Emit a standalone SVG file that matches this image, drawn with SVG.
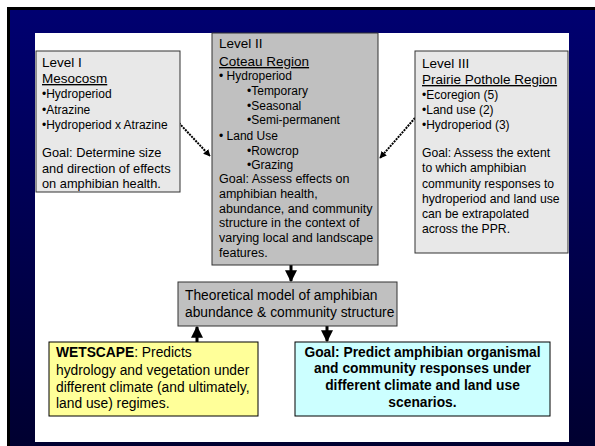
<svg xmlns="http://www.w3.org/2000/svg" width="595" height="446" viewBox="0 0 595 446">
  <defs>
    <linearGradient id="bg" x1="0" y1="0" x2="0" y2="1">
      <stop offset="0" stop-color="#000070"/>
      <stop offset="1" stop-color="#000030"/>
    </linearGradient>
    <marker id="ah" viewBox="0 0 10 10" refX="9" refY="5" markerWidth="4" markerHeight="4" orient="auto" markerUnits="strokeWidth">
      <path d="M0,0 L10,5 L0,10 z" fill="#000"/>
    </marker>
    <marker id="ahd" viewBox="0 0 10 10" refX="9" refY="5" markerWidth="3.5" markerHeight="3.5" orient="auto" markerUnits="strokeWidth">
      <path d="M0,0 L10,5 L0,10 z" fill="#000"/>
    </marker>
  </defs>
  <style>
    text { font-family: "Liberation Sans", Arial, sans-serif; fill: #000; }
    .box { stroke: #333; stroke-width: 1; }
    .lt { fill: #e8e8e8; }
    .gr { fill: #c0c0c0; }
    .title { font-size: 13.5px; }
    .ul { text-decoration: underline; }
    .bul { font-size: 12px; }
    .goal { font-size: 12.8px; }
    .goal2 { font-size: 12.5px; }
    .goal3 { font-size: 12.2px; }
    .big { font-size: 13.8px; }
    .bold { font-weight: bold; }
    .solid { stroke: #000; stroke-width: 3; fill: none; }
    .dash { stroke: #000; stroke-width: 2; stroke-dasharray: 2 1; fill: none; }
  </style>
  <rect x="0" y="0" width="595" height="446" fill="#fff"/>
  <rect x="7" y="7" width="588" height="439" fill="#000"/>
  <rect x="10" y="10" width="585" height="436" fill="url(#bg)"/>
  <rect x="35" y="33" width="534" height="409" fill="#fff"/>

  <g id="connectors">
    <line class="dash" x1="179" y1="123" x2="210" y2="156" marker-end="url(#ahd)"/>
    <line class="dash" x1="415" y1="118" x2="380" y2="158" marker-end="url(#ahd)"/>
    <line class="solid" x1="291" y1="265" x2="291" y2="281" marker-end="url(#ah)"/>
    <line class="solid" x1="197" y1="342" x2="197" y2="327" marker-end="url(#ah)"/>
    <line class="solid" x1="327" y1="326" x2="327" y2="341" marker-end="url(#ah)"/>
  </g>

  <g id="level1">
    <rect class="box lt" x="36" y="51" width="144" height="141"/>
    <text class="title" x="42" y="67">Level I</text>
    <text class="title ul" x="42" y="83">Mesocosm</text>
    <text class="bul" x="42" y="98">•Hydroperiod</text>
    <text class="bul" x="42" y="114">•Atrazine</text>
    <text class="bul" x="42" y="129">•Hydroperiod x Atrazine</text>
    <text class="goal" x="42" y="157">Goal: Determine size</text>
    <text class="goal" x="42" y="173">and direction of effects</text>
    <text class="goal" x="42" y="188">on amphibian health.</text>
  </g>

  <g id="level2">
    <rect class="box gr" x="212" y="33" width="166" height="232"/>
    <text class="title" x="219" y="48">Level II</text>
    <text class="title ul" x="219" y="66">Coteau Region</text>
    <text class="bul" x="219" y="80">• Hydroperiod</text>
    <text class="bul" x="247" y="95">•Temporary</text>
    <text class="bul" x="247" y="110">•Seasonal</text>
    <text class="bul" x="247" y="124">•Semi-permanent</text>
    <text class="bul" x="219" y="140">• Land Use</text>
    <text class="bul" x="247" y="155">•Rowcrop</text>
    <text class="bul" x="247" y="169">•Grazing</text>
    <text class="goal2" x="219" y="183">Goal: Assess effects on</text>
    <text class="goal2" x="219" y="198">amphibian health,</text>
    <text class="goal2" x="219" y="213">abundance, and community</text>
    <text class="goal2" x="219" y="227">structure in the context of</text>
    <text class="goal2" x="219" y="242">varying local and landscape</text>
    <text class="goal2" x="219" y="257">features.</text>
  </g>

  <g id="level3">
    <rect class="box lt" x="415" y="51" width="153" height="202"/>
    <text class="title" x="422" y="68">Level III</text>
    <text class="title ul" x="422" y="84">Prairie Pothole Region</text>
    <text class="bul" x="422" y="99">•Ecoregion (5)</text>
    <text class="bul" x="422" y="114">•Land use (2)</text>
    <text class="bul" x="422" y="129">•Hydroperiod (3)</text>
    <text class="goal3" x="422" y="157">Goal: Assess the extent</text>
    <text class="goal3" x="422" y="172">to which amphibian</text>
    <text class="goal3" x="422" y="188">community responses to</text>
    <text class="goal3" x="422" y="203">hydroperiod and land use</text>
    <text class="goal3" x="422" y="218">can be extrapolated</text>
    <text class="goal3" x="422" y="233">across the PPR.</text>
  </g>

  <g id="model">
    <rect class="box gr" x="178" y="282" width="219" height="44"/>
    <text class="big" x="185" y="300">Theoretical model of amphibian</text>
    <text class="big" x="185" y="317">abundance &amp; community structure</text>
  </g>

  <g id="wetscape">
    <rect x="49" y="342" width="209" height="74" fill="#ffff99" stroke="#000" stroke-width="1"/>
    <text class="big" x="56" y="357"><tspan class="bold">WETSCAPE</tspan>: Predicts</text>
    <text class="big" x="56" y="375">hydrology and vegetation under</text>
    <text class="big" x="56" y="392">different climate (and ultimately,</text>
    <text class="big" x="56" y="408">land use) regimes.</text>
  </g>

  <g id="goal">
    <rect x="295" y="342" width="255" height="74" fill="#ccffff" stroke="#000" stroke-width="1"/>
    <text class="big bold" x="422.5" y="357" text-anchor="middle">Goal: Predict amphibian organismal</text>
    <text class="big bold" x="422.5" y="373" text-anchor="middle">and community responses under</text>
    <text class="big bold" x="422.5" y="390" text-anchor="middle">different climate and land use</text>
    <text class="big bold" x="422.5" y="407" text-anchor="middle">scenarios.</text>
  </g>
</svg>
